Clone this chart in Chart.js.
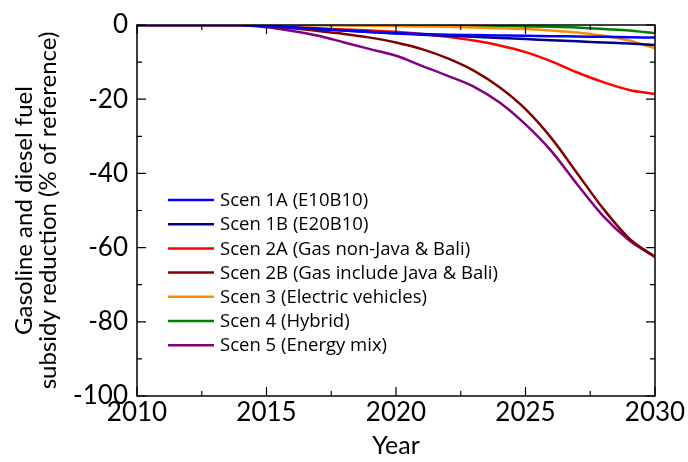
<!DOCTYPE html>
<html>
<head>
<meta charset="utf-8">
<script src="https://cdn.jsdelivr.net/npm/chart.js@4.4.1/dist/chart.umd.min.js"></script>
<style>
  html, body { margin: 0; padding: 0; background: #fff; }
  #wrap { width: 688px; height: 462px; }
</style>
</head>
<body>
<div id="wrap"><canvas id="grafico"></canvas></div>
<script>
// años y escenarios
const years = [2010, 2011, 2012, 2013, 2014, 2015, 2016, 2017, 2018, 2019, 2020,
  2021, 2022, 2023, 2024, 2025, 2026, 2027, 2028, 2029, 2030];

const scen1A = [0, 0, 0, 0, 0, -0.3, -0.7, -1.1, -1.5, -1.9, -2.2,
  -2.4, -2.6, -2.7, -2.8, -2.9, -3.0, -3.1, -3.2, -3.3, -3.4];
const scen1B = [0, 0, 0, 0, 0, -0.3, -0.7, -1.1, -1.5, -1.9, -2.3,
  -2.6, -2.9, -3.2, -3.5, -3.8, -4.1, -4.4, -4.7, -5.0, -5.4];
const scen2A = [0, 0, 0, 0, 0, -0.3, -0.6, -0.9, -1.2, -1.5, -1.8,
  -2.4, -3.2, -4.2, -5.5, -7.3, -9.8, -12.8, -15.4, -17.5, -18.6];
const scen2B = [0, 0, 0, 0, 0, -0.4, -0.9, -1.6, -2.4, -3.4, -4.7,
  -6.5, -9.0, -12.3, -16.8, -22.7, -30.5, -40.0, -49.5, -57.5, -62.5];
const scen3 = [0, 0, 0, 0, 0, 0, 0, 0, -0.1, -0.2, -0.3,
  -0.4, -0.5, -0.7, -0.9, -1.1, -1.5, -2.0, -2.9, -4.2, -6.3];
const scen4 = [0, 0, 0, 0, 0, 0, 0, 0, 0, -0.1, -0.1,
  -0.2, -0.2, -0.3, -0.3, -0.4, -0.5, -0.7, -1.1, -1.5, -2.2];
const scen5 = [0, 0, 0, 0, -0.1, -0.6, -1.6, -2.9, -4.7, -6.5, -8.3,
  -11.0, -13.7, -16.6, -20.9, -26.8, -34.0, -43.0, -51.5, -58.0, -62.5];

const labels = [
  "Scen 1A (E10B10)",
  "Scen 1B (E20B10)",
  "Scen 2A (Gas non-Java & Bali)",
  "Scen 2B (Gas include Java & Bali)",
  "Scen 3 (Electric vehicles)",
  "Scen 4 (Hybrid)",
  "Scen 5 (Energy mix)",
];
const series = [scen1A, scen1B, scen2A, scen2B, scen3, scen4, scen5];
const colores = ["#0000ff", "#00008b", "#ff0000", "#800000", "#ff8c00", "#008000", "#800080"];

const fontTicks = "Lato";
const fontLeyenda = "Open Sans";

// ejes con marcas hacia adentro, marco y leyenda interior
const marcoPlugin = {
  id: "marco",
  afterDatasetsDraw(chart) {
    const { ctx, chartArea: a, scales } = chart;
    ctx.save();
    ctx.strokeStyle = "#000";
    ctx.lineWidth = 1.5;
    ctx.strokeRect(a.left, a.top, a.right - a.left, a.bottom - a.top);

    ctx.lineWidth = 1.2;
    ctx.beginPath();
    for (let v = 2010; v <= 2030; v += 2.5) {
      const x = scales.x.getPixelForValue(v);
      const len = v % 5 === 0 ? 9 : 5;
      ctx.moveTo(x, a.bottom); ctx.lineTo(x, a.bottom - len);
      ctx.moveTo(x, a.top); ctx.lineTo(x, a.top + len);
    }
    for (let v = -100; v <= 0; v += 10) {
      const y = scales.y.getPixelForValue(v);
      const len = v % 20 === 0 ? 9 : 5;
      ctx.moveTo(a.left, y); ctx.lineTo(a.left + len, y);
      ctx.moveTo(a.right, y); ctx.lineTo(a.right - len, y);
    }
    ctx.stroke();

    // leyenda
    ctx.font = "18.5px '" + fontLeyenda + "'";
    ctx.textBaseline = "middle";
    ctx.fillStyle = "#000";
    chart.data.datasets.forEach((ds, i) => {
      const y = 200 + i * 24.2;
      ctx.strokeStyle = ds.borderColor;
      ctx.lineWidth = 2.5;
      ctx.beginPath();
      ctx.moveTo(168, y); ctx.lineTo(214, y);
      ctx.stroke();
      ctx.fillText(ds.label, 220, y + 1);
    });
    ctx.restore();
  },
};

new Chart(document.getElementById("grafico"), {
  type: "line",
  data: {
    datasets: series.map((vals, i) => ({
      label: labels[i],
      data: vals.map((v, j) => ({ x: years[j], y: v })),
      borderColor: colores[i],
      backgroundColor: colores[i],
      borderWidth: 2.5,
      pointRadius: 0,
      cubicInterpolationMode: "monotone",
      fill: false,
    })),
  },
  options: {
    responsive: true,
    maintainAspectRatio: false,
    animation: false,
    layout: { padding: { top: 25, right: 33, left: 0, bottom: 0 } },
    plugins: { legend: { display: false }, tooltip: { enabled: false } },
    scales: {
      x: {
        type: "linear",
        min: 2010,
        max: 2030,
        afterFit: (s) => { s.height = 66; },
        grid: { display: false, drawTicks: false },
        border: { display: false },
        ticks: {
          stepSize: 5,
          padding: 1,
          color: "#000",
          font: { family: fontTicks, size: 26 },
          callback: (v) => String(v),
        },
        title: {
          display: true,
          text: "Year",
          color: "#000",
          font: { family: fontTicks, size: 25 },
          padding: { top: 0, bottom: 1 },
        },
      },
      y: {
        min: -100,
        max: 0,
        afterFit: (s) => { s.width = 137; },
        grid: { display: false, drawTicks: false },
        border: { display: false },
        ticks: {
          stepSize: 20,
          padding: 9,
          color: "#000",
          font: { family: fontTicks, size: 26 },
        },
        title: {
          display: true,
          text: ["Gasoline and diesel fuel", "subsidy reduction (% of reference)"],
          color: "#000",
          font: { family: fontTicks, size: 24, lineHeight: 1.0 },
          padding: { top: 12, bottom: 0 },
        },
      },
    },
  },
  plugins: [marcoPlugin],
});
</script>
</body>
</html>
